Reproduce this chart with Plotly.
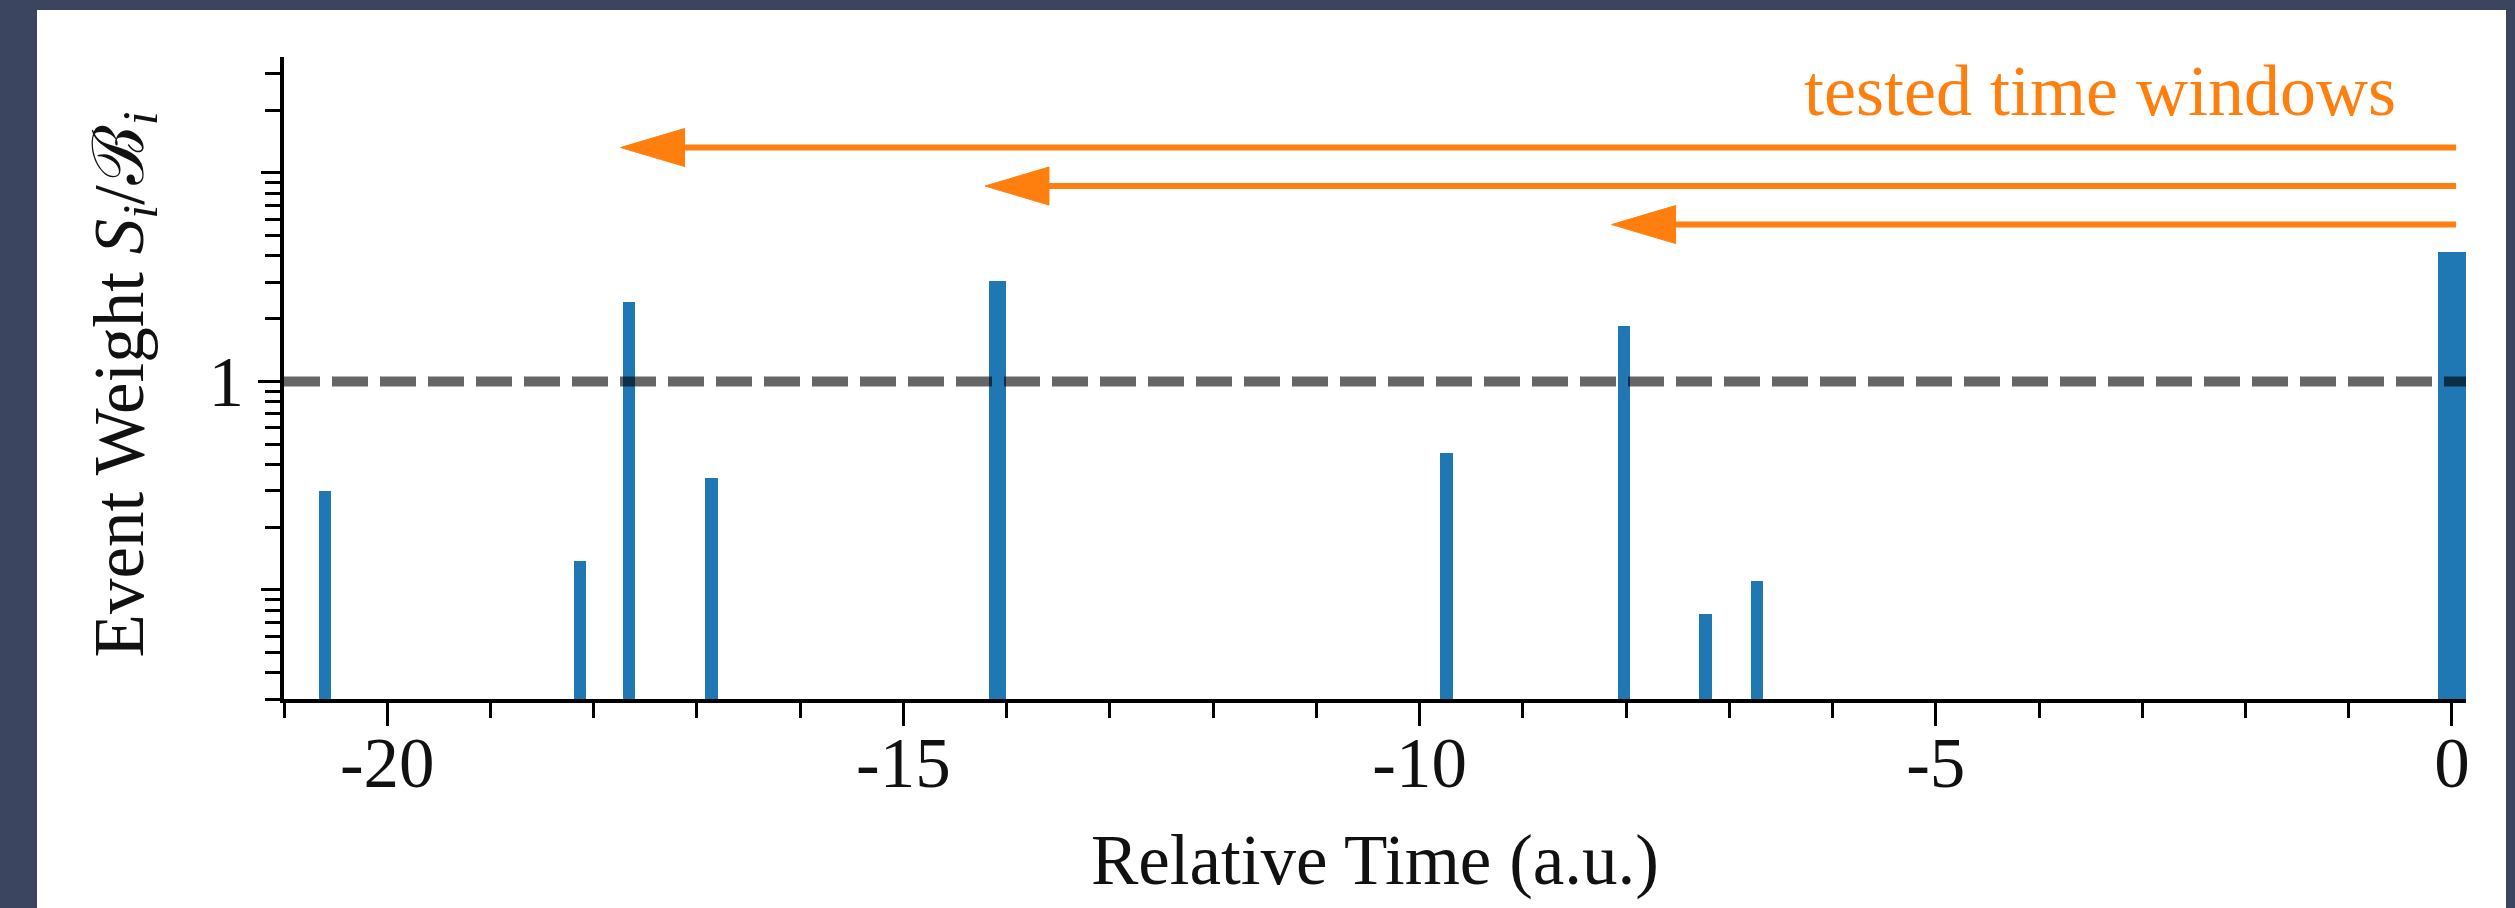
import numpy as np
import plotly.graph_objects as go

# ---------------- data ----------------
event_times = [-20.60, -18.13, -17.66, -16.86, -14.09, -9.74, -8.02, -7.23, -6.73, 0.0]
event_weights = [0.30, 0.138, 2.41, 0.343, 3.04, 0.453, 1.84, 0.0767, 0.111, 4.17]
event_widths = [0.12, 0.12, 0.12, 0.12, 0.17, 0.13, 0.12, 0.12, 0.12, 0.27]

threshold = 1.0

# tested time windows: start (arrow tip) and vertical level as axes fraction
window_starts = [-17.74, -14.21, -8.14]
window_end = 0.04
window_levels_frac = [0.859, 0.799, 0.739]

x_tick_vals = [-20, -15, -10, -5, 0]
x_tick_text = ["-20", "-15", "-10", "-5", "0"]
y_label_vals = [1]
y_label_text = ["1"]
y_decade_vals = [0.1, 10]

x_range = [-21.0, 0.136]
y_range_lin = [0.03, 36.0]

# ---------------- styling ----------------
BLUE = "#1f77b4"
ORANGE = "#ff7f0e"
FONT = "Liberation Serif"
FS = 71
INK = "#111111"

W, H = 2515, 908
ML, MR, MT, MB = 284, 49, 57, 209
PW, PH = W - ML - MR, H - MT - MB

ylog = [np.log10(y_range_lin[0]), np.log10(y_range_lin[1])]
px_per_x = PW / (x_range[1] - x_range[0])
px_per_dec = PH / (ylog[1] - ylog[0])

fig = go.Figure()

fig.add_trace(go.Bar(
    x=event_times, y=event_weights, width=event_widths,
    marker=dict(color=BLUE, line=dict(width=0)),
    showlegend=False, hoverinfo="x+y",
))

# threshold line (on the overlaying axis, same scale)
fig.add_trace(go.Scatter(
    x=x_range, y=[threshold, threshold], mode="lines", yaxis="y2",
    line=dict(color="rgba(0,0,0,0.6)", width=10, dash="36px,12px"),
    showlegend=False, hoverinfo="skip", cliponaxis=False,
))

# arrows for tested time windows
head_len = 64 / px_per_x
head_half = 10 ** (19 / px_per_dec)
for xs, fr in zip(window_starts, window_levels_frac):
    yv = 10 ** (ylog[0] + fr * (ylog[1] - ylog[0]))
    fig.add_trace(go.Scatter(
        x=[xs + head_len * 0.8, window_end], y=[yv, yv], mode="lines",
        line=dict(color=ORANGE, width=6), showlegend=False, hoverinfo="skip",
        cliponaxis=False,
    ))
    fig.add_trace(go.Scatter(
        x=[xs, xs + head_len, xs + head_len, xs],
        y=[yv, yv * head_half, yv / head_half, yv],
        mode="lines", fill="toself", fillcolor=ORANGE,
        line=dict(color=ORANGE, width=1), showlegend=False, hoverinfo="skip",
        cliponaxis=False,
    ))

# minor ticks on the log axis
minor_y = []
for e in range(-3, 3):
    for k in range(2, 10):
        v = k * 10.0 ** e
        if y_range_lin[0] - 1e-9 <= v <= y_range_lin[1]:
            minor_y.append(v)

tick_style = dict(ticks="outside", tickwidth=3, tickcolor="black")

fig.update_layout(
    width=W, height=H,
    margin=dict(l=ML, r=MR, t=MT, b=MB, autoexpand=False),
    paper_bgcolor="#3c4560",
    plot_bgcolor="white",
    bargap=0,
    font=dict(family=FONT, size=FS, color=INK),
    shapes=[dict(
        type="rect", xref="paper", yref="paper",
        x0=(37 - ML) / PW, x1=(2506 - ML) / PW,
        y0=(PH + MT - 930) / PH, y1=(PH + MT - 10) / PH,
        fillcolor="white", line=dict(width=0), layer="below",
    )],
    xaxis=dict(
        range=x_range, showgrid=False, zeroline=False,
        showline=True, linecolor="black", linewidth=3.5,
        ticklen=23, **tick_style,
        tickmode="array", tickvals=x_tick_vals, ticktext=x_tick_text,
        tickfont=dict(family=FONT, size=FS, color=INK),
        ticklabelstandoff=-24,
        minor=dict(ticklen=15, dtick=1, tick0=0, showgrid=False, **tick_style),
    ),
    yaxis=dict(
        type="log", range=ylog, showgrid=False, zeroline=False,
        showline=True, linecolor="black", linewidth=3.5,
        ticklen=22, **tick_style,
        tickmode="array", tickvals=y_label_vals, ticktext=y_label_text,
        tickfont=dict(family=FONT, size=FS, color=INK),
        minor=dict(ticklen=15, tickmode="array", tickvals=minor_y,
                   showgrid=False, **tick_style),
    ),
    yaxis2=dict(
        type="log", range=ylog, overlaying="y", side="left", anchor="x",
        showgrid=False, zeroline=False, showline=False,
        ticklen=22, **tick_style,
        tickmode="array", tickvals=y_decade_vals, showticklabels=False,
    ),
    annotations=[
        dict(text="tested time windows", xref="paper", yref="paper",
             x=(2398 - ML) / PW, y=(PH + MT - 91) / PH,
             xanchor="right", yanchor="middle", showarrow=False,
             font=dict(family=FONT, size=72, color=ORANGE)),
        dict(text="Relative Time (a.u.)", xref="paper", yref="paper",
             x=0.5, y=(PH + MT - 860) / PH, xanchor="center", yanchor="middle",
             showarrow=False, font=dict(family=FONT, size=FS, color=INK)),
        dict(text="Event Weight <i>S</i><sub><i>i</i></sub>/ℬ<sub><i>i</i></sub>",
             xref="paper", yref="paper", x=(124 - ML) / PW, y=0.49,
             xanchor="center", yanchor="middle", textangle=-90, showarrow=False,
             font=dict(family=FONT, size=FS, color=INK)),
    ],
)

fig.write_html("out.html", config={"displayModeBar": False},
               post_script="document.body.style.margin='0';")
